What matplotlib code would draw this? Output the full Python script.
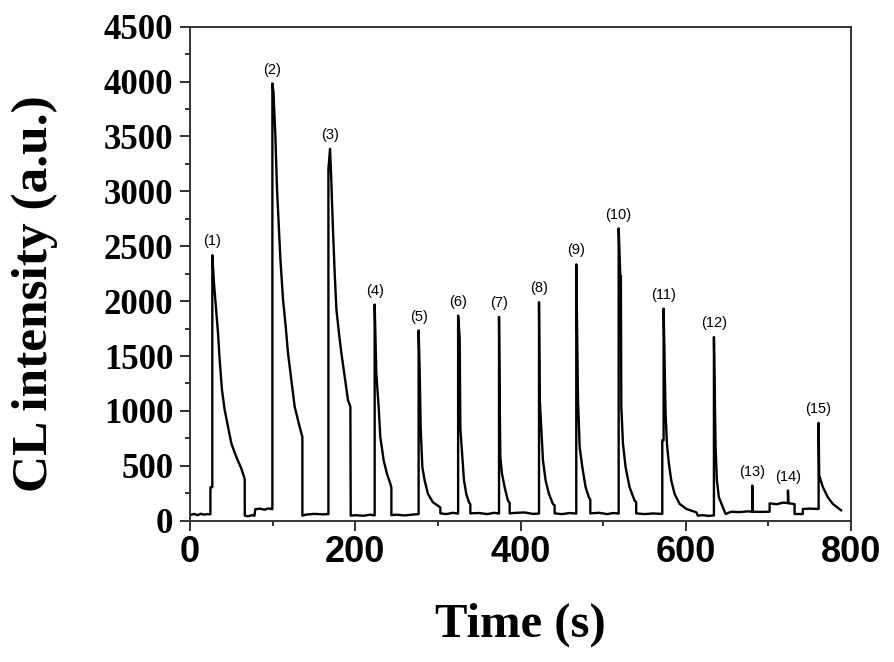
import numpy as np
import matplotlib.pyplot as plt
from matplotlib.ticker import MultipleLocator

# CL trace (time in s, intensity in a.u.)
time_s = [
    1.7, 5, 9, 13, 17, 21, 24.7,
    24.7, 27.0, 27.0, 28, 29, 31.1, 33.9, 35.9, 38.7, 42, 46, 50.1, 56.1, 62.2, 65.4, 66.2, 66.3,
    70, 75, 78, 79, 85, 90, 95, 99.7,
    99.7, 101, 103.3, 105.3, 107.3, 109.4, 112.6, 115.8, 118.6, 122.7, 126.7, 132.7, 136, 136,
    140, 150, 160, 167.5,
    167.5, 169.5, 171.1, 173, 175.1, 177.2, 180.3, 183.2, 187.2, 191.2, 194.1, 194.5,
    200, 210, 218, 223.5,
    223.5, 225.5, 228.3, 230.3, 234.4, 238.4, 242.5, 243.7, 243.7,
    250, 260, 270, 276.7,
    276.7, 278, 279.2, 281.2, 284, 288, 294, 300, 303, 303,
    310, 318, 324.5,
    324.5, 326.4, 327.2, 329.6, 331.6, 334.4, 337.6, 339.3, 339.3,
    350, 360, 368, 374,
    374, 374.8, 375.6, 377.6, 380.8, 384.8, 386.9, 386.9,
    395, 405, 415, 422.4,
    422.4, 423.2, 424.4, 427.2, 430.4, 434.4, 439.2, 441.3, 441.3,
    450, 460, 467.5,
    467.5, 468.8, 469.6, 471.6, 474.8, 478.8, 482.8, 484.5, 484.5,
    495, 505, 512, 518.8,
    518.8, 520.8, 521.5, 522, 524, 527.2, 532, 538.1, 540, 540,
    550, 560, 571.6,
    571.6, 573.2, 573.2, 575.6, 577.2, 579.6, 582.5, 586.5, 592.6, 600.7, 612.8, 614.7,
    620, 628, 634.1,
    634.1, 636.1, 637.7, 640.1, 644.2, 648.2,
    655, 665, 675, 680.5, 680.5, 681, 690, 701.5,
    701.5, 710, 718, 723.7, 723.7, 724.2, 731.7, 731.7, 741.7, 741.7, 750, 760.8,
    760.8, 761.5, 766, 772, 778, 786.1, 788,
]
cl_intensity = [
    55, 62, 50, 63, 55, 60, 58,
    305, 305, 2418, 2300, 2167, 1969, 1709, 1465, 1190, 1007, 855, 702, 580, 473, 397, 380, 46,
    40, 50, 45, 105, 110, 100, 112, 105,
    3983, 3907, 3510, 3022, 2717, 2381, 2015, 1770, 1527, 1282, 1038, 855, 763, 46,
    55, 62, 58, 60,
    3200, 3388, 3083, 2656, 2259, 1923, 1709, 1527, 1312, 1099, 1038, 46,
    50, 45, 55, 48,
    1969, 1343, 1038, 763, 549, 427, 336, 300, 50,
    55, 48, 56, 60,
    1733, 1358, 839, 488, 366, 244, 168, 137, 120, 67,
    60, 72, 65,
    1868, 1664, 839, 580, 366, 244, 168, 150, 67,
    70, 60, 72, 65,
    1856, 1129, 580, 427, 305, 183, 160, 67,
    72, 75, 62, 65,
    1990, 1129, 946, 549, 366, 244, 153, 140, 67,
    60, 70, 65,
    2335, 1557, 1099, 671, 488, 305, 213, 190, 67,
    72, 60, 70, 65,
    2662, 2228, 2228, 1038, 702, 488, 305, 183, 170, 67,
    60, 66, 62,
    733, 733, 1932, 977, 702, 519, 366, 244, 153, 107, 76, 46,
    50, 44, 48,
    1673, 671, 366, 213, 137, 61,
    82, 78, 85, 82, 320, 82, 80, 82,
    158, 150, 165, 160, 275, 160, 150, 61, 61, 107, 110, 107,
    891, 412, 305, 213, 153, 107, 95,
]

peak_labels = ["(1)", "(2)", "(3)", "(4)", "(5)", "(6)", "(7)", "(8)",
               "(9)", "(10)", "(11)", "(12)", "(13)", "(14)", "(15)"]
peak_times = [27.0, 99.7, 169.5, 223.5, 276.7, 324.5, 374, 422.4,
              467.5, 518.8, 573.2, 634.1, 680.5, 723.7, 760.8]

t = np.array(time_s)
v = np.array(cl_intensity)

fig = plt.figure(figsize=(8.94, 6.62), dpi=100)
ax = fig.add_axes([190 / 894, 1 - 520.7 / 662, 661 / 894, 494 / 662])

ax.plot(t, v, color="black", lw=1.7)

for lab, pt in zip(peak_labels, peak_times):
    top = v[np.abs(t - pt) < 2.5].max()
    ax.annotate(lab, (pt, top), xytext=(0, 5), textcoords="offset points",
                ha="center", va="bottom", fontsize=10.5, family="Liberation Sans")

ax.set_xlim(0, 800)
ax.set_ylim(0, 4500)
ax.xaxis.set_major_locator(MultipleLocator(200))
ax.xaxis.set_minor_locator(MultipleLocator(100))
ax.yaxis.set_major_locator(MultipleLocator(500))
ax.yaxis.set_minor_locator(MultipleLocator(250))
ax.tick_params(which="both", direction="out", top=False, right=False, width=1.3, color="#222222")
ax.tick_params(which="major", length=7)
ax.tick_params(which="minor", length=3.5)
ax.tick_params(axis="x", pad=3)
ax.tick_params(axis="y", pad=5)

for lbl in ax.get_xticklabels():
    lbl.set_fontfamily("Liberation Sans")
    lbl.set_fontweight("bold")
    lbl.set_fontsize(26)
for lbl in ax.get_yticklabels():
    lbl.set_fontfamily("Liberation Serif")
    lbl.set_fontweight("bold")
    lbl.set_fontsize(25)

for sp in ax.spines.values():
    sp.set_linewidth(1.4)
    sp.set_color("#333333")

ax.set_xlabel("Time (s)", family="Liberation Serif", weight="bold", fontsize=35, va="center")
ax.set_ylabel("CL intensity (a.u.)", family="Liberation Serif", weight="bold", fontsize=37,
              va="center", ha="center")
ax.xaxis.set_label_coords(0.5, -0.211)
ax.yaxis.set_label_coords(-0.2345, 0.46)

fig.savefig("out.png", dpi=100)
